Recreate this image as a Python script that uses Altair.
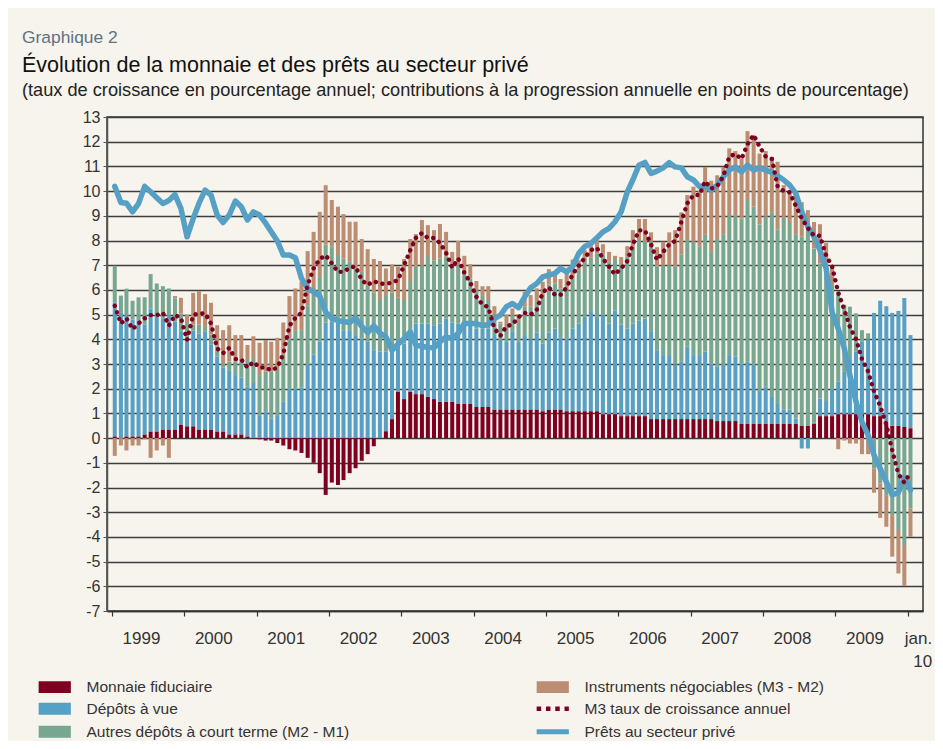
import altair as alt
import pandas as pd

FONT = "Liberation Sans"

# ---------------- data ----------------
dates = pd.date_range("1999-01-01", periods=133, freq="MS") + pd.Timedelta(days=14)

monnaie = [
    0.07, 0.02, 0.07, 0.07, 0.07, 0.15, 0.27, 0.27, 0.35, 0.35, 0.35, 0.55,
    0.48, 0.48, 0.35, 0.35, 0.35, 0.27, 0.27, 0.15, 0.15, 0.15, 0.07, 0.02,
    -0.05, -0.10, -0.10, -0.20, -0.30, -0.45, -0.50, -0.60, -0.80, -1.00, -1.42, -2.30,
    -1.80, -1.90, -1.70, -1.42, -1.22, -0.92, -0.65, -0.33, 0.02, 0.28, 0.77, 1.87,
    1.58, 1.87, 1.78, 1.78, 1.67, 1.58, 1.47, 1.47, 1.47, 1.38, 1.38, 1.38,
    1.26, 1.26, 1.26, 1.16, 1.16, 1.16, 1.16, 1.16, 1.16, 1.16, 1.16, 1.09,
    1.16, 1.16, 1.16, 1.09, 1.09, 1.09, 1.09, 1.09, 1.09, 0.97, 0.97, 0.97,
    0.89, 0.89, 0.89, 0.89, 0.89, 0.77, 0.77, 0.77, 0.77, 0.77, 0.77, 0.77,
    0.77, 0.77, 0.77, 0.77, 0.69, 0.69, 0.69, 0.69, 0.57, 0.57, 0.57, 0.57,
    0.57, 0.57, 0.57, 0.57, 0.57, 0.57, 0.49, 0.49, 0.57, 0.89, 0.89, 0.89,
    0.97, 0.97, 0.97, 0.97, 0.97, 0.97, 0.89, 0.89, 0.60, 0.50, 0.50, 0.45,
    0.40,
]

depots = [
    5.43, 5.05, 4.91, 4.73, 4.68, 4.45, 4.98, 4.71, 4.50, 4.63, 4.36, 3.75,
    3.42, 3.87, 3.89, 3.95, 3.45, 3.03, 2.58, 2.60, 2.40, 2.30, 2.01, 2.21,
    0.93, 1.09, 0.80, 0.93, 1.47, 2.01, 2.01, 2.05, 2.96, 3.39, 3.90, 4.68,
    4.71, 4.68, 4.37, 4.37, 4.17, 4.03, 3.90, 3.56, 3.48, 3.22, 2.79, 2.10,
    2.25, 2.30, 2.86, 2.86, 2.97, 2.99, 3.17, 3.37, 3.21, 3.26, 3.26, 3.26,
    3.18, 3.18, 3.18, 3.01, 2.81, 2.74, 3.14, 2.74, 3.01, 2.84, 3.12, 2.74,
    3.12, 3.28, 2.90, 2.94, 3.35, 3.55, 3.82, 4.05, 3.82, 4.01, 3.67, 4.20,
    3.71, 3.55, 3.75, 3.86, 3.95, 3.56, 2.79, 2.59, 2.59, 2.21, 2.32, 2.93,
    2.59, 2.59, 2.73, 2.25, 2.20, 2.27, 2.67, 2.60, 2.45, 2.52, 2.39, 1.30,
    1.51, 1.13, 0.81, 0.59, 0.59, 0.23, -0.42, -0.42, 0.05, 0.71, 0.61, 1.11,
    1.31, 1.71, 2.23, 2.53, 2.93, 3.03, 4.18, 4.67, 4.74, 4.57, 4.65, 5.22,
    3.77,
]

autres = [
    1.48, 0.70, 1.07, 0.76, 0.95, 1.10, 1.39, 1.28, 1.30, 1.08, 0.94, 0.75,
    0.80, 0.25, 0.36, 0.20, 0.40, 0.40, 0.15, 0.35, 0.55, 0.65, 1.08, 1.01,
    1.62, 1.60, 1.89, 1.89, 1.89, 2.02, 2.36, 2.32, 2.42, 2.60, 2.66, 3.16,
    3.04, 2.73, 2.90, 2.77, 2.70, 2.70, 2.29, 2.34, 2.09, 2.29, 2.34, 1.71,
    1.76, 2.19, 2.30, 2.36, 2.73, 2.61, 2.63, 2.50, 2.39, 2.36, 2.09, 1.82,
    1.55, 1.35, 1.15, 0.81, 0.67, 0.60, 0.68, 0.84, 1.15, 1.32, 1.24, 1.96,
    1.94, 1.82, 2.00, 2.03, 2.02, 2.16, 2.34, 2.16, 2.57, 2.46, 2.50, 2.08,
    2.43, 2.90, 3.11, 3.27, 3.14, 3.62, 3.38, 3.62, 3.64, 3.96, 4.35, 4.36,
    4.59, 4.39, 4.73, 4.55, 5.17, 5.29, 5.67, 5.71, 5.87, 6.55, 6.41, 6.78,
    6.88, 7.44, 7.08, 7.76, 7.59, 7.45, 7.66, 7.93, 7.06, 5.47, 5.10, 4.20,
    3.64, 2.72, 2.12, 1.55, 0.47, 0.24, -1.23, -1.84, -2.31, -3.12, -3.72, -4.33,
    -2.85,
]

instruments = [
    -0.72, -0.30, -0.50, -0.30, -0.30, -0.05, -0.80, -0.50, -0.30, -0.80, 0.10, 0.63,
    0.30, 1.28, 1.35, 1.33, 1.28, 0.87, 1.37, 1.47, 1.07, 1.07, 0.61, 0.88,
    1.31, 1.28, 1.21, 1.24, 1.32, 1.72, 1.69, 1.96, 2.19, 2.36, 2.60, 2.40,
    1.89, 1.96, 1.80, 1.62, 1.89, 1.33, 1.46, 1.35, 1.58, 1.08, 1.13, 1.26,
    1.66, 1.70, 1.32, 1.83, 1.25, 1.24, 1.40, 1.01, 0.47, 0.98, 0.65, 0.58,
    0.37, 0.36, 0.56, 0.36, 0.07, 0.50, 0.27, 0.26, 0.60, 0.47, 0.54, 0.54,
    0.62, 0.41, 0.38, 0.67, 0.77, 0.40, 0.36, 0.51, 0.56, 0.41, 0.40, 0.13,
    0.30, 0.43, 0.67, 0.85, 0.89, 0.38, 0.79, 0.97, 1.33, 1.48, 1.70, 1.78,
    2.23, 2.25, 2.75, 2.85, 2.58, 2.73, 2.70, 2.62, 2.43, 2.79, 2.90, 2.87,
    2.66, 2.25, 2.73, 1.32, 1.22, 1.65, 1.40, 0.81, 1.07, 1.59, 1.30, 0.80,
    -0.45, -0.10, -0.22, -0.22, -0.65, -0.65, -0.98, -1.39, -1.28, -1.68, -1.76, -1.65,
    -1.15,
]

m3 = [
    5.36, 4.64, 4.85, 4.41, 4.64, 4.85, 4.98, 4.98, 5.07, 4.55, 4.98, 4.87,
    3.97, 4.98, 5.05, 5.05, 4.64, 3.63, 3.44, 3.65, 3.20, 3.18, 2.86, 3.08,
    2.86, 2.86, 2.74, 2.86, 3.41, 4.55, 4.87, 5.07, 6.20, 6.87, 7.25, 7.40,
    7.07, 6.73, 6.73, 6.90, 6.95, 6.40, 6.20, 6.35, 6.25, 6.25, 6.29, 6.40,
    7.00, 7.60, 8.10, 8.30, 8.10, 8.10, 7.90, 7.50, 6.90, 7.27, 6.70, 6.30,
    5.72, 5.41, 5.30, 4.44, 4.14, 4.53, 4.60, 4.90, 5.07, 5.00, 5.20, 5.90,
    6.10, 5.80, 5.80, 6.10, 6.63, 6.98, 7.30, 7.61, 7.70, 7.27, 6.94, 6.63,
    6.87, 7.17, 7.84, 8.41, 8.41, 7.84, 7.21, 7.54, 7.84, 7.98, 8.76, 9.51,
    9.84, 9.84, 10.40, 10.10, 10.20, 10.60, 11.40, 11.50, 11.30, 11.90, 12.27, 11.80,
    11.40, 11.30, 10.20, 10.00, 9.95, 9.40, 8.90, 8.50, 8.20, 8.19, 7.40, 6.96,
    5.90, 5.20, 4.50, 4.00, 3.20, 2.70, 1.90, 1.30, 0.55, -0.50, -1.45, -1.80,
    -1.40,
]

prets = [
    10.19, 9.54, 9.51, 9.16, 9.49, 10.19, 9.97, 9.73, 9.50, 9.62, 9.86, 9.30,
    8.15, 8.89, 9.50, 10.04, 9.84, 9.03, 8.73, 9.03, 9.60, 9.37, 8.83, 9.16,
    9.03, 8.70, 8.35, 7.98, 7.41, 7.41, 7.30, 6.46, 6.06, 5.92, 5.75, 5.10,
    4.85, 4.75, 4.72, 4.68, 4.87, 4.52, 4.27, 4.55, 4.25, 4.10, 3.55, 3.80,
    4.03, 4.30, 3.77, 3.72, 3.67, 3.66, 3.90, 4.10, 4.03, 4.24, 4.64, 4.64,
    4.64, 4.55, 4.60, 4.84, 4.98, 5.32, 5.45, 5.28, 5.72, 6.09, 6.26, 6.53,
    6.60, 6.67, 6.87, 6.73, 6.94, 7.48, 7.75, 7.88, 8.11, 8.35, 8.49, 8.76,
    9.16, 9.97, 10.45, 11.05, 11.16, 10.72, 10.81, 10.94, 11.15, 10.98, 10.94, 10.58,
    10.45, 10.18, 10.21, 10.04, 10.24, 10.58, 10.85, 10.98, 10.78, 11.05, 10.85, 10.94,
    10.85, 10.76, 10.62, 10.45, 10.24, 9.91, 9.16, 8.56, 8.15, 7.61, 6.87, 5.11,
    4.44, 3.63, 2.55, 1.47, 0.66, 0.12, -0.69, -1.23, -1.77, -2.30, -2.20, -1.60,
    -2.10,
]

S_MON = "Monnaie fiduciaire"
S_INS = "Instruments négociables (M3 - M2)"
S_DEP = "Dépôts à vue"
S_M3 = "M3 taux de croissance annuel"
S_AUT = "Autres dépôts à court terme (M2 - M1)"
S_PRE = "Prêts au secteur privé"

# legend order (filled column by column, 2 columns) and colours
legend_order = [S_MON, S_DEP, S_AUT, S_INS, S_M3, S_PRE]
legend_colors = ["#7e0021", "#55a0c4", "#77a691", "#bb8d72", "#7e0021", "#55a0c4"]

bar_series = [(S_MON, monnaie), (S_DEP, depots), (S_AUT, autres), (S_INS, instruments)]
bars_df = pd.concat(
    [pd.DataFrame({"date": dates, "serie": name, "valeur": vals, "ordre": k})
     for k, (name, vals) in enumerate(bar_series)],
    ignore_index=True,
)
m3_df = pd.DataFrame({"date": dates, "serie": S_M3, "valeur": m3})
prets_df = pd.DataFrame({"date": dates, "serie": S_PRE, "valeur": prets})
label_df = pd.DataFrame({"t": ["Graphique 2"]})

# ---------------- encodings ----------------
year_ticks = [alt.DateTime(year=y, month=1, date=1) for y in range(1999, 2011)]
x_scale = alt.Scale(domain=[alt.DateTime(year=1999, month=1, date=1),
                            alt.DateTime(year=2010, month=2, date=22)])
x_axis = alt.Axis(
    values=year_ticks,
    labelExpr="year(datum.value) >= 2010 ? ['jan.', '10'] : timeFormat(datum.value, '%Y')",
    labelOffset={"condition": {"test": "year(datum.value) >= 2010", "value": 24}, "value": 29},
    labelAlign={"condition": {"test": "year(datum.value) >= 2010", "value": "right"}, "value": "center"},
    labelFlush=False, labelOverlap=False, labelBound=False,
    labelFontSize=17, labelColor="#333", labelPadding=14, labelLineHeight=23,
    tickSize=5, tickColor="#333", tickWidth=1.2,
    domainColor="#333", domainWidth=1.5, grid=False, title=None,
)
y_scale = alt.Scale(domain=[-7, 13], nice=False, zero=False)
y_axis = alt.Axis(
    values=list(range(-7, 14)), labelExpr="datum.value + ''",
    grid=True, gridColor="#3d3d3d", gridWidth=1.3,
    domainColor="#555", domainWidth=1.5, tickColor="#555", tickSize=4,
    labelFontSize=16, labelColor="#333", labelPadding=3, labelFlush=False, title=None,
)

is_line = f"(datum.value == '{S_M3}' || datum.value == '{S_PRE}')"
legend = alt.Legend(
    title=None, orient="none", legendX=-60, legendY=562, columns=2,
    columnPadding=176, rowPadding=3, padding=0,
    symbolSize=196, labelFontSize=15.5, labelColor="#333", labelFont=FONT, labelOffset=24,
    labelLimit=400, symbolOpacity=1,
    symbolType={"expr": f"{is_line} ? 'M-2.3,0H2.3' : 'M-2.3,-0.85H2.3V0.85H-2.3Z'"},
    symbolFillColor={"expr": f"{is_line} ? 'transparent' : scale('color', datum.value)"},
    symbolStrokeColor={"expr": "scale('color', datum.value)"},
    symbolStrokeWidth={"expr": f"datum.value == '{S_PRE}' ? 5 : (datum.value == '{S_M3}' ? 4.5 : 0)"},
    symbolDash={"expr": f"datum.value == '{S_M3}' ? [4.5, 4.8] : [1, 0]"},
)
color = alt.Color("serie:N", scale=alt.Scale(domain=legend_order, range=legend_colors), legend=legend)

X = alt.X("date:T", scale=x_scale, axis=x_axis)
Y = alt.Y("valeur:Q", scale=y_scale, axis=y_axis)

bars = alt.Chart(bars_df).mark_bar(size=4).encode(
    x=X,
    y=alt.Y("valeur:Q", scale=y_scale, axis=y_axis, stack="zero"),
    color=color,
    order=alt.Order("ordre:Q"),
)
loans = alt.Chart(prets_df).mark_line(strokeWidth=5.5, strokeCap="round", strokeJoin="round").encode(
    x=X, y=Y, color=color
)
m3_line = alt.Chart(m3_df).mark_line(strokeWidth=4.4, strokeDash=[0.1, 6.8], strokeCap="round").encode(
    x=X, y=Y, color=color
)
graph_label = alt.Chart(label_df).mark_text(
    align="left", baseline="alphabetic", fontSize=17.4, color="#5e7282", font=FONT
).encode(text="t:N", x=alt.value(-85), y=alt.value(-74))

chart = alt.layer(bars, loans, m3_line, graph_label).properties(
    width=816, height=494,
    autosize=alt.AutoSizeParams(type="none"),
    padding={"left": 99, "top": 109, "right": 12, "bottom": 130},
    background="#f7f4ed",
    title=alt.TitleParams(
        text="Évolution de la monnaie et des prêts au secteur privé",
        subtitle="(taux de croissance en pourcentage annuel; contributions à la progression annuelle en points de pourcentage)",
        anchor="start", frame="group", dx=-85, dy=84, offset=14,
        font=FONT, fontSize=21.5, fontWeight="normal", color="#111",
        subtitleFont=FONT, subtitleFontSize=18.2, subtitleColor="#222", subtitlePadding=5,
    ),
).configure(font=FONT).configure_view(stroke="#333", strokeWidth=1.5)

chart.save("out.html", embed_options={"renderer": "svg", "actions": False})
